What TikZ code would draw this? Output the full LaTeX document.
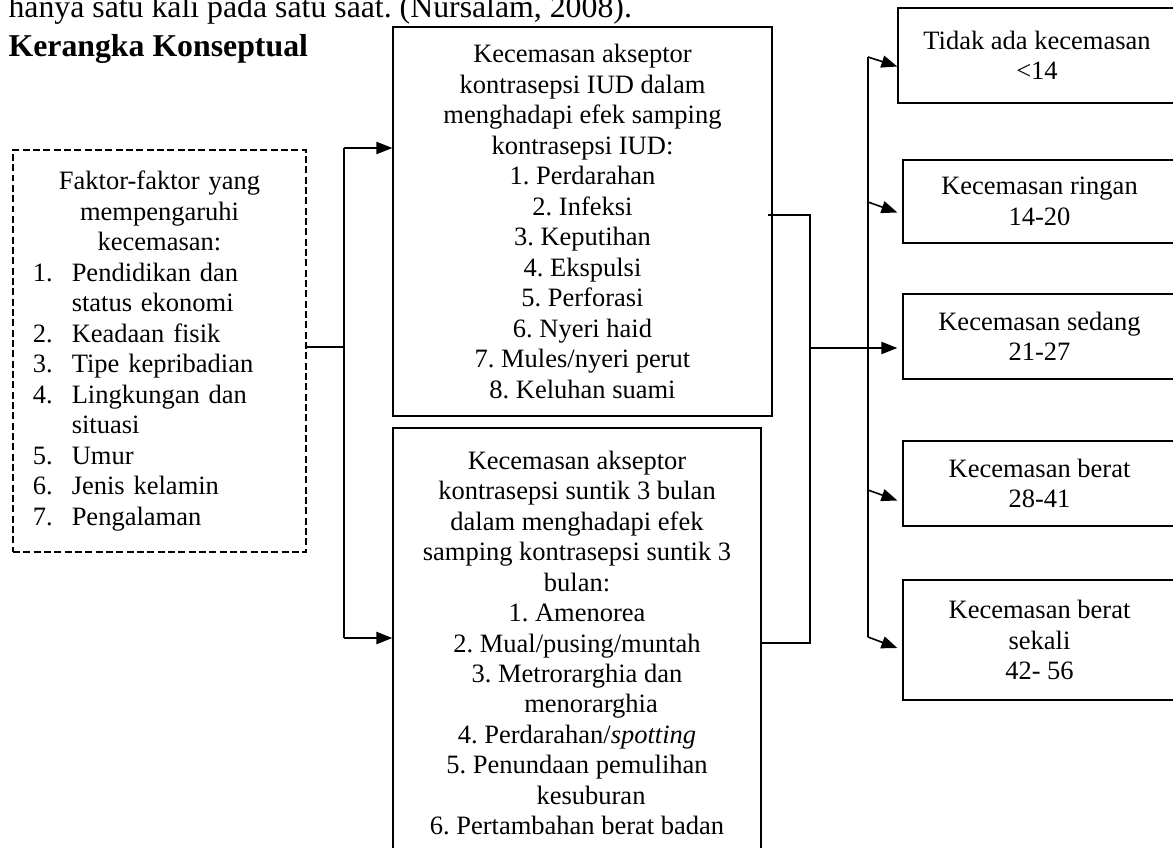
\documentclass[tikz,border=0pt]{standalone}
\usepackage{fontspec}
\setmainfont{Liberation Serif}
\usetikzlibrary{arrows.meta}
\tikzstyle{box}=[rectangle,draw=black,line width=0.5pt,inner sep=0pt,
  align=center,font=\fontsize{10}{11.5}\selectfont]
\tikzstyle{dbox}=[rectangle,draw=black,line width=0.5pt,inner sep=0pt,
  dash pattern=on 2.6pt off 1.3pt,align=center,font=\fontsize{10}{11.5}\selectfont]
\tikzstyle{none}=[inner sep=0pt]
\tikzstyle{link}=[line width=0.55pt]
\tikzstyle{arr}=[line width=0.6pt,-{Triangle[length=6pt,width=4.6pt]}]
\newcommand{\butir}[2]{\makebox[110.6pt][l]{\hspace*{7.5pt}\makebox[14.7pt][l]{#1}#2}}

\begin{document}
\frenchspacing
\begin{tikzpicture}[x=0.3774pt,y=-0.3774pt]
            \useasboundingbox (0,0) rectangle (1173,847);
            \node [anchor=base west,inner sep=0pt,font=\fontsize{12}{14}\selectfont] (kalimat) at (8,17) {hanya satu kali pada satu saat. (Nursalam, 2008).};
            \node [anchor=base west,inner sep=0pt,font=\fontsize{12}{14}\selectfont\bfseries] (judul) at (8,57) {Kerangka Konseptual};
            % faktor
            \node [style=dbox,text width=110.6pt,minimum height=402*0.3774pt] (faktor) at (159.5,351) {%
              Faktor-faktor yang\\ mempengaruhi\\ kecemasan:\\
              \butir{1.}{Pendidikan dan}\\ \butir{}{status ekonomi}\\
              \butir{2.}{Keadaan fisik}\\
              \butir{3.}{Tipe kepribadian}\\
              \butir{4.}{Lingkungan dan}\\ \butir{}{situasi}\\
              \butir{5.}{Umur}\\
              \butir{6.}{Jenis kelamin}\\
              \butir{7.}{Pengalaman}};
            % efek samping
            \node [style=box,minimum width=379*0.3774pt,minimum height=389*0.3774pt] (iud) at (582.5,221.5) {Kecemasan akseptor\\ kontrasepsi IUD dalam\\ menghadapi efek samping\\ kontrasepsi IUD:\\ 1. Perdarahan\\ 2. Infeksi\\ 3. Keputihan\\ 4. Ekspulsi\\ 5. Perforasi\\ 6. Nyeri haid\\ 7. Mules/nyeri perut\\ 8. Keluhan suami};
            \node [style=box,minimum width=368*0.3774pt,minimum height=430*0.3774pt] (suntik) at (577,643) {Kecemasan akseptor\\ kontrasepsi suntik 3 bulan\\ dalam menghadapi efek\\ samping kontrasepsi suntik 3\\ bulan:\\ 1. Amenorea\\ 2. Mual/pusing/muntah\\ 3. Metrorarghia dan\\ \hspace*{10.6pt}menorarghia\\ 4. Perdarahan/\textit{spotting}\\ 5. Penundaan pemulihan\\ \hspace*{10.6pt}kesuburan\\ 6. Pertambahan berat badan};
            % tingkat kecemasan
            \node [style=box,minimum width=278*0.3774pt,minimum height=95*0.3774pt] (tidak) at (1037,55.5) {Tidak ada kecemasan\\ \textless14};
            \node [style=box,minimum width=273*0.3774pt,minimum height=83*0.3774pt] (ringan) at (1039.5,201.5) {Kecemasan ringan\\ 14-20};
            \node [style=box,minimum width=273*0.3774pt,minimum height=85*0.3774pt] (sedang) at (1039.5,336.5) {Kecemasan sedang\\ 21-27};
            \node [style=box,minimum width=273*0.3774pt,minimum height=85*0.3774pt] (berat) at (1039.5,483.5) {Kecemasan berat\\ 28-41};
            \node [style=box,minimum width=273*0.3774pt,minimum height=120*0.3774pt] (sekali) at (1039.5,640) {Kecemasan berat\\ sekali\\ 42- 56};
            % titik cabang
            \node [style=none] (j1) at (344,148) {};
            \node [style=none] (j2) at (344,347) {};
            \node [style=none] (j3) at (344,638) {};
            \node [style=none] (r1) at (810,215) {};
            \node [style=none] (r2) at (810,348) {};
            \node [style=none] (r3) at (810,643) {};
            \node [style=none] (v1) at (868,57) {};
            \node [style=none] (v2) at (868,202) {};
            \node [style=none] (v4) at (868,490) {};
            \node [style=none] (v5) at (868,637) {};
            \draw [style=link] (faktor.east |- j2) -- (j2.center);
            \draw [style=link] (j1.center) -- (j3.center);
            \draw [style=arr] (j1.center) -- (j1 -| iud.west);
            \draw [style=arr] (j3.center) -- (j3 -| suntik.west);
            \draw [style=link] (iud.east |- r1) ++(-5,0) -- (r1.center) -- (r3.center) -- (r3 -| suntik.east);
            \draw [style=arr,shorten >=1.9pt] (r2.center) -- (r2 -| sedang.west);
            \draw [style=link] (v1.center) -- (v5.center);
            \draw [style=arr] (v1.center) -- ([shift={(0,11)}]tidak.west);
            \draw [style=arr] (v2.center) -- ([shift={(-5,11)}]ringan.west);
            \draw [style=arr] (v4.center) -- ([shift={(-5,17)}]berat.west);
            \draw [style=arr] (v5.center) -- ([shift={(-5,8)}]sekali.west);
\end{tikzpicture}
\end{document}
